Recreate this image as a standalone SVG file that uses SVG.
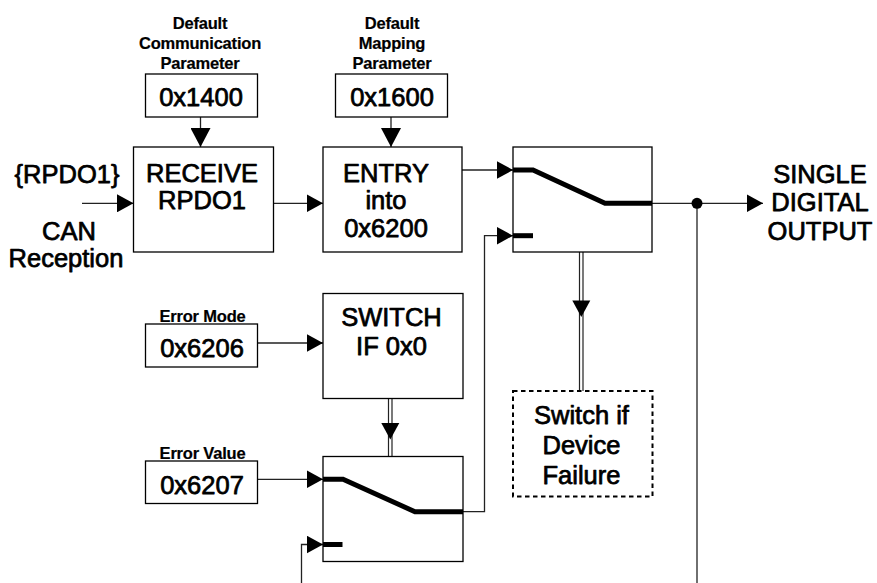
<svg xmlns="http://www.w3.org/2000/svg" xmlns:xlink="http://www.w3.org/1999/xlink" width="877" height="583" viewBox="0 0 877 583">
<style>
  .box { fill: #fff; stroke: #000; stroke-width: 1.3; }
  .dash { fill: #fff; stroke: #000; stroke-width: 2; stroke-dasharray: 4.5 3.5; }
  .big { font-family: "Liberation Sans", Arial, sans-serif; font-size: 25.5px; fill: #000; stroke: #000; stroke-width: 0.75; stroke-linejoin: round; text-anchor: middle; }
  .lbl { font-family: "Liberation Sans", Arial, sans-serif; font-size: 16.5px; font-weight: bold; letter-spacing: -0.2px; fill: #000; stroke: #000; stroke-width: 0.2; text-anchor: middle; }
  .ln { fill: none; stroke: #222; stroke-width: 1.3; }
  .arr { marker-end: url(#ah); }
  .arrv { marker-end: url(#ahv); }
  .thick { fill: none; stroke: #000; stroke-width: 5; stroke-linejoin: miter; }
  .dbl { fill: none; stroke: #222; stroke-width: 1.2; }
</style>
<defs>
  <marker id="ah" markerUnits="userSpaceOnUse" markerWidth="17" markerHeight="18" refX="16.5" refY="9" orient="auto">
    <path d="M0,0 L16.5,9 L0,18 Z" fill="#000"/>
  </marker>
  <marker id="ahv" markerUnits="userSpaceOnUse" markerWidth="19" markerHeight="20" refX="19" refY="10" orient="auto">
    <path d="M0,0 L19,10 L0,20 Z" fill="#000"/>
  </marker>
  <path id="ahDown" d="M-9,0 L9,0 L0,16.5 Z" fill="#000"/>
</defs>

<g id="connectors">
  <!-- CAN in -->
  <path class="ln arr" d="M82,203.3 H133.5"/>
  <!-- 0x1400 to RECEIVE -->
  <path class="ln arrv" d="M200.5,117 V147"/>
  <!-- 0x1600 to ENTRY -->
  <path class="ln arrv" d="M391,117 V147"/>
  <!-- RECEIVE to ENTRY -->
  <path class="ln arr" d="M273.5,203.3 H323"/>
  <!-- ENTRY to switch 1 -->
  <path class="ln arr" d="M462,170 H513"/>
  <!-- switch 1 output -->
  <path class="ln arr" d="M652,203.3 H763"/>
  <path class="ln" d="M697,203.3 V583"/>
  <circle cx="697" cy="203.3" r="5.5" fill="#000"/>
  <!-- 0x6206 to SWITCH -->
  <path class="ln arr" d="M257.5,343 H323"/>
  <!-- 0x6207 to lower switch -->
  <path class="ln arr" d="M257.5,479.3 H323"/>
  <!-- lower switch output to switch 1 lower input -->
  <path class="ln arr" d="M463,511.7 H484.5 V235.7 H513"/>
  <!-- feedback into lower switch lower input -->
  <path class="ln arr" d="M301.5,583 V544.5 H323"/>
  <!-- double line: switch 1 to device failure -->
  <path class="dbl" d="M579.5,193 V391 M583,194.5 V391"/>
  <use xlink:href="#ahDown" x="581.3" y="300.5"/>
  <!-- double line: SWITCH IF to lower switch -->
  <path class="dbl" d="M388.5,398.5 V498 M392,398.5 V499.5"/>
  <use xlink:href="#ahDown" x="390.3" y="423"/>
</g>

<g id="label-comm">
  <text class="lbl" x="200" y="28.5">Default</text>
  <text class="lbl" x="200" y="48.5">Communication</text>
  <text class="lbl" x="200" y="68.5">Parameter</text>
</g>
<g id="node-0x1400">
  <rect class="box" x="145.5" y="74" width="112" height="43"/>
  <text class="big" x="201" y="106">0x1400</text>
</g>

<g id="label-map">
  <text class="lbl" x="392" y="28.5">Default</text>
  <text class="lbl" x="392" y="48.5">Mapping</text>
  <text class="lbl" x="392" y="68.5">Parameter</text>
</g>
<g id="node-0x1600">
  <rect class="box" x="335.5" y="74" width="112" height="43"/>
  <text class="big" x="392" y="106">0x1600</text>
</g>

<g id="node-can">
  <text class="big" x="67" y="183">{RPDO1}</text>
  <text class="big" x="69" y="240">CAN</text>
  <text class="big" x="66" y="267">Reception</text>
</g>

<g id="node-receive">
  <rect class="box" x="133.5" y="147" width="140" height="105"/>
  <text class="big" x="202" y="182">RECEIVE</text>
  <text class="big" x="202" y="208.5">RPDO1</text>
</g>

<g id="node-entry">
  <rect class="box" x="323" y="147" width="139" height="105"/>
  <text class="big" x="386" y="182">ENTRY</text>
  <text class="big" x="386" y="209">into</text>
  <text class="big" x="386" y="236.5">0x6200</text>
</g>

<g id="node-switch1">
  <rect class="box" x="513" y="147" width="139" height="105"/>
  <path class="thick" d="M513,170 H533 L605,203.3 H652"/>
  <path class="thick" d="M513,235.7 H533"/>
</g>

<g id="node-output">
  <text class="big" x="820" y="182.5">SINGLE</text>
  <text class="big" x="820" y="211">DIGITAL</text>
  <text class="big" x="820" y="240">OUTPUT</text>
</g>

<g id="node-error-mode">
  <text class="lbl" x="202.5" y="321.5">Error Mode</text>
  <rect class="box" x="145.5" y="324" width="112" height="43"/>
  <text class="big" x="202" y="357">0x6206</text>
</g>

<g id="node-switch-if">
  <rect class="box" x="323" y="293.5" width="140" height="105"/>
  <text class="big" x="391.5" y="326">SWITCH</text>
  <text class="big" x="391.5" y="355">IF 0x0</text>
</g>

<g id="node-device-failure">
  <rect class="dash" x="513" y="391" width="139.5" height="105.5"/>
  <text class="big" x="581.5" y="424">Switch if</text>
  <text class="big" x="581.5" y="454">Device</text>
  <text class="big" x="581.5" y="484">Failure</text>
</g>

<g id="node-error-value">
  <text class="lbl" x="202.5" y="458.5">Error Value</text>
  <rect class="box" x="145.5" y="461" width="112" height="42.5"/>
  <text class="big" x="202" y="494">0x6207</text>
</g>

<g id="node-switch2">
  <rect class="box" x="323" y="456.5" width="140" height="105"/>
  <path class="thick" d="M323,479.3 H343 L415,511.7 H463"/>
  <path class="thick" d="M323,544.5 H342.5"/>
</g>
</svg>
